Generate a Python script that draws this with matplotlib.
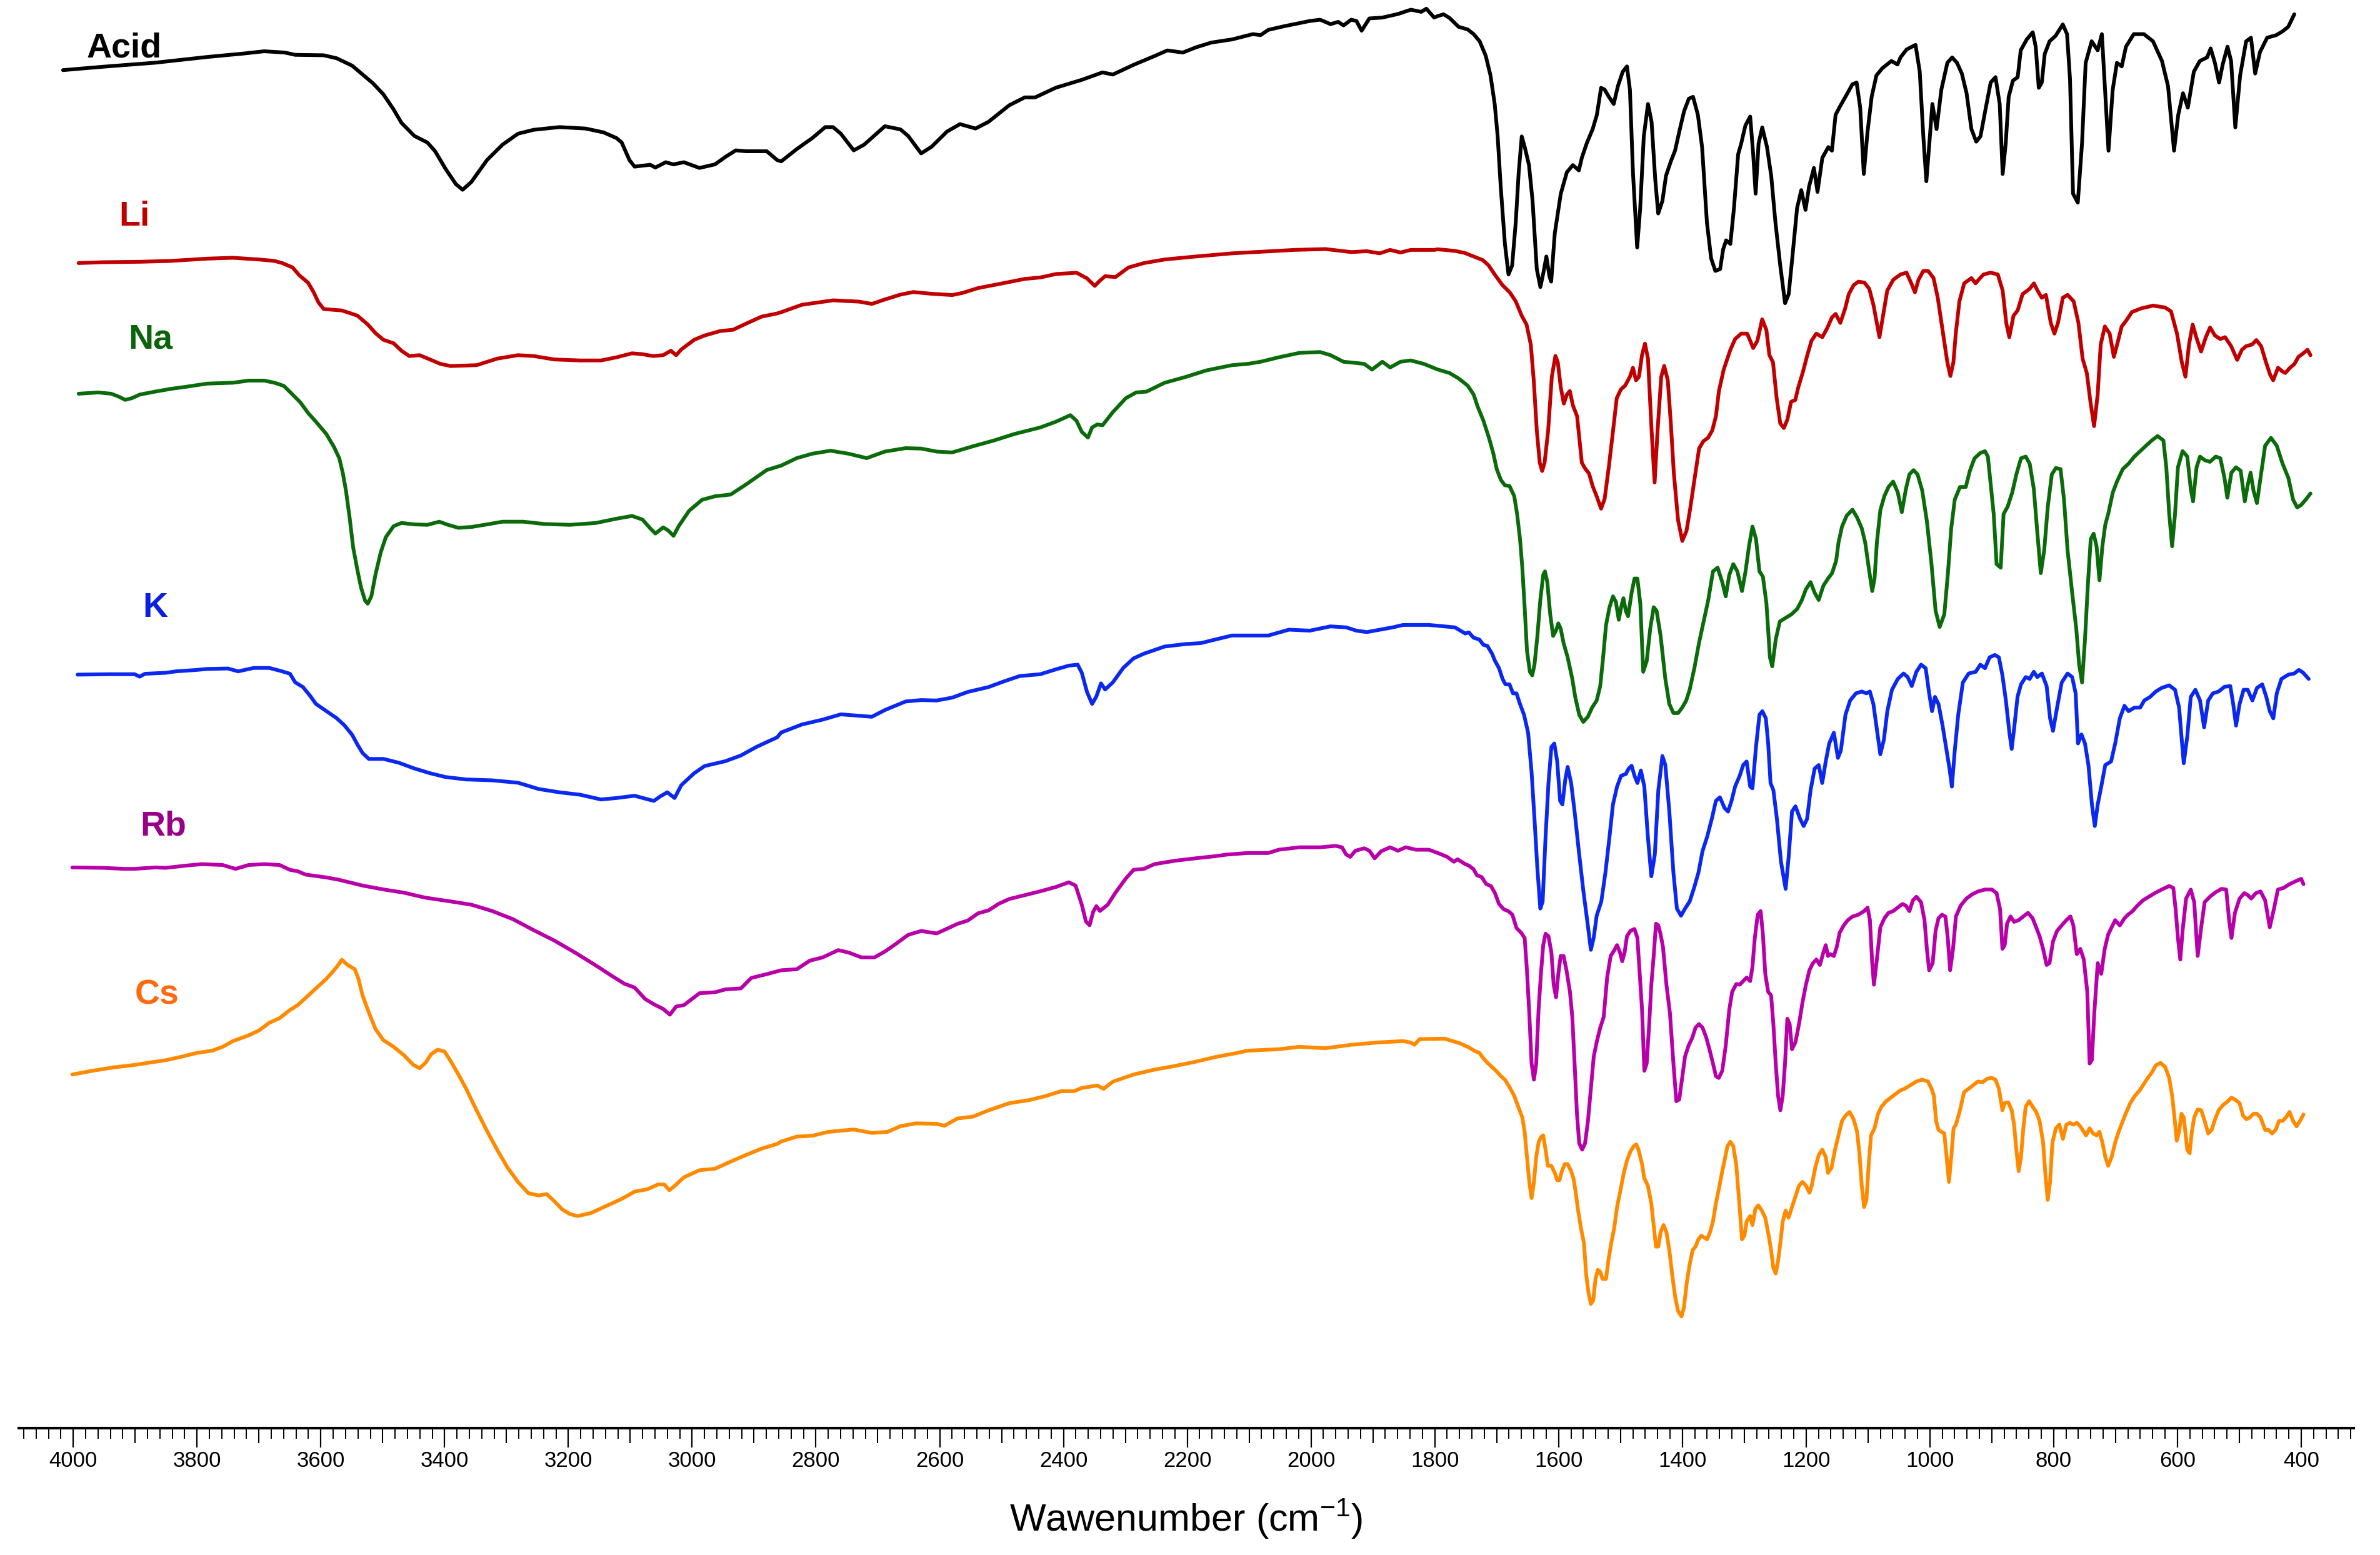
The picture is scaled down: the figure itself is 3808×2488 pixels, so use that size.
import matplotlib
matplotlib.use("Agg")
import matplotlib.pyplot as plt
from matplotlib.ticker import MultipleLocator, FixedLocator, NullFormatter
import numpy as np

plt.rcParams['font.family'] = ['Liberation Sans', 'DejaVu Sans']
plt.rcParams['mathtext.fontset'] = 'custom'
plt.rcParams['mathtext.rm'] = 'Liberation Sans'

# FTIR spectra, stacked (offset transmittance, arbitrary units 0-100)
acid_wn = [4016.5, 3951.2, 3867.5, 3783.7, 3725.1, 3691.6, 3658.1, 3641.4, 3595.3, 3574.4,
           3549.3, 3515.8, 3499.0, 3482.3, 3469.7, 3448.8, 3427.8, 3415.3, 3398.5, 3381.8,
           3370.9, 3356.7, 3331.5, 3306.4, 3281.3, 3256.2, 3214.3, 3172.4, 3143.1, 3122.2,
           3113.8, 3101.3, 3092.9, 3080.3, 3067.8, 3059.4, 3042.7, 3030.1, 3013.3, 2988.2,
           2963.1, 2946.3, 2929.6, 2912.9, 2879.4, 2862.6,
           2856.1, 2831.0, 2805.9, 2784.9, 2772.4, 2759.8, 2738.9, 2722.1, 2688.6, 2663.5,
           2650.9, 2630.0, 2613.2, 2588.1, 2567.2, 2542.1, 2521.1, 2487.6, 2462.5, 2445.8,
           2412.3, 2370.4, 2336.9, 2320.2, 2286.7, 2253.2, 2232.2, 2207.2, 2186.2, 2161.1,
           2127.6, 2094.1, 2081.5, 2069.0, 2043.8, 2002.0, 1985.2, 1968.5, 1955.9, 1947.5,
           1935.0, 1926.6, 1918.2, 1905.7, 1884.7, 1859.6, 1838.7, 1821.9, 1813.6, 1801.0,
           1795.5, 1785.8, 1776.1, 1761.5, 1746.9, 1737.2, 1727.5, 1717.8, 1710.0, 1703.2,
           1698.4, 1693.5, 1686.7, 1680.9, 1675.0, 1669.2, 1664.4, 1659.5, 1654.6, 1647.8,
           1642.0, 1635.2, 1629.4, 1624.5, 1619.7, 1614.8, 1611.9, 1606.1, 1596.4, 1586.6,
           1576.9, 1567.2, 1562.4, 1554.6, 1544.9, 1538.1, 1531.3, 1525.5, 1518.7, 1510.9,
           1504.1, 1496.3, 1489.5, 1484.7, 1479.8, 1473.0, 1468.1, 1462.3, 1455.5, 1449.7,
           1443.8, 1439.0, 1432.2, 1426.4, 1418.6, 1411.8, 1404.0, 1397.2, 1389.5, 1382.7,
           1374.9, 1368.1, 1360.3, 1353.5, 1346.7, 1338.9, 1334.1, 1329.2, 1322.4, 1316.6,
           1309.8, 1304.9, 1298.1, 1290.4, 1285.5, 1281.6, 1276.8, 1270.9, 1263.2, 1256.4,
           1249.6, 1241.8, 1234.0, 1228.2, 1222.4, 1214.6, 1207.8, 1201.0, 1195.2, 1187.4,
           1181.6, 1173.8, 1164.1, 1158.3, 1152.4, 1144.7, 1134.9, 1125.2, 1118.4, 1112.6,
           1106.8, 1100.9, 1094.1, 1086.4, 1076.7, 1062.1, 1052.4, 1047.5, 1037.8, 1023.2,
           1016.4, 1010.6, 1005.7, 1000.9, 996.0, 989.2, 981.5, 971.8, 964.0, 956.2,
           948.4, 940.7, 932.9, 925.1, 918.3, 909.6, 901.8, 894.0, 887.2, 882.4,
           877.5, 872.7, 865.9, 858.1, 853.2, 843.5, 833.8, 829.0, 824.1, 819.2,
           814.4, 806.6, 796.9, 785.2, 778.4, 773.6, 768.7, 761.0, 754.2, 748.3,
           738.6, 728.9, 722.1, 715.3, 711.4, 704.6, 697.8, 690.0, 683.2, 670.6,
           654.1, 639.5, 625.0, 615.2, 605.5, 598.7, 591.0, 583.2, 573.5, 563.8,
           552.1, 546.3, 539.5, 532.7, 526.9, 519.1, 513.3, 506.5, 498.7, 489.0,
           481.2, 474.4, 466.6, 455.0, 440.4, 430.7, 421.0, 411.2]
acid_t = [95.09, 95.33, 95.61, 96.01, 96.25, 96.41, 96.32, 96.16, 96.13, 95.92,
          95.40, 94.17, 93.40, 92.33, 91.40, 90.48, 90.02, 89.41, 88.18, 87.11,
          86.71, 87.26, 88.79, 89.87, 90.64, 90.91, 91.10, 91.00, 90.73, 90.33,
          90.02, 88.79, 88.33, 88.40, 88.46, 88.27, 88.64, 88.49, 88.64, 88.24,
          88.49, 89.01, 89.47, 89.41, 89.41, 88.79,
          88.70, 89.56, 90.33, 91.10, 91.10, 90.64, 89.47, 89.87, 91.16, 90.94,
          90.48, 89.26, 89.72, 90.79, 91.31, 91.00, 91.47, 92.63, 93.18, 93.18,
          93.86, 94.41, 94.93, 94.78, 95.46, 96.07, 96.47, 96.32, 96.68, 97.02,
          97.24, 97.61, 97.54, 97.91, 98.16, 98.53, 98.62, 98.31, 98.47, 98.22,
          98.62, 98.53, 97.85, 98.71, 98.77, 99.02, 99.32, 99.17, 99.39, 98.77,
          98.87, 99.00, 98.74, 98.12, 97.94, 97.61, 97.11, 96.11, 94.72, 92.72,
          90.45, 86.94, 82.92, 80.78, 81.41, 84.43, 87.94, 90.45, 89.70, 88.44,
          85.93, 81.16, 79.90, 80.91, 82.04, 80.66, 80.28, 83.67, 86.44, 87.94,
          88.44, 88.07, 88.95, 89.95, 90.96, 91.96, 93.85, 93.72, 93.22, 92.72,
          93.97, 94.98, 95.35, 93.72, 87.94, 82.67, 85.43, 90.45, 92.72, 91.46,
          87.44, 85.05, 85.93, 87.69, 88.70, 89.45, 90.96, 92.21, 93.09, 93.22,
          91.96, 89.70, 84.43, 81.91, 81.03, 81.16, 82.54, 83.17, 82.92, 85.43,
          89.20, 89.95, 91.21, 91.84, 89.20, 86.44, 89.95, 91.08, 89.70, 87.69,
          84.43, 81.41, 78.77, 79.40, 81.91, 85.43, 86.69, 85.30, 86.94, 88.24,
          86.56, 88.95, 89.70, 89.45, 91.96, 92.59, 93.34, 94.10, 94.22, 92.46,
          87.82, 90.71, 93.22, 94.72, 95.23, 95.73, 95.48, 95.98, 96.53, 96.86,
          94.98, 90.45, 87.31, 89.95, 92.72, 90.96, 93.72, 95.60, 95.98, 95.60,
          94.85, 93.47, 90.96, 90.08, 90.45, 92.46, 94.22, 94.60, 92.72, 87.82,
          89.95, 93.22, 94.35, 94.60, 96.48, 97.24, 97.74, 96.73, 93.85, 94.22,
          96.23, 97.11, 97.49, 98.29, 97.61, 94.47, 86.44, 85.81, 89.95, 95.60,
          97.11, 96.48, 97.61, 92.46, 89.45, 93.72, 95.60, 95.35, 96.73, 97.61,
          97.61, 97.11, 95.73, 93.97, 89.45, 91.96, 93.47, 92.46, 94.98, 95.73,
          95.98, 96.61, 95.60, 94.22, 95.48, 96.73, 95.73, 91.08, 94.72, 97.11,
          97.36, 94.85, 96.36, 97.36, 97.54, 97.79, 98.12, 99.00]

li_wn = [3991.4, 3951.2, 3892.6, 3842.4, 3783.7, 3741.9, 3700.0, 3674.9, 3662.3, 3645.6,
         3634.7, 3620.5, 3612.1, 3603.7, 3595.3, 3566.0, 3540.9, 3524.2, 3511.6, 3499.0,
         3482.3, 3469.7, 3457.1, 3440.4, 3423.7, 3406.9, 3390.2, 3348.3, 3314.8, 3281.3,
         3256.2, 3222.7, 3180.8, 3147.3, 3122.2, 3097.1, 3080.3, 3063.6, 3046.8, 3034.3,
         3025.9, 3017.5, 2996.6, 2979.8, 2954.7, 2933.8, 2912.8, 2887.7, 2862.6,
         2856.1, 2822.6, 2772.4, 2730.5, 2709.6, 2688.6, 2663.5, 2642.6, 2613.3, 2579.8,
         2563.0, 2537.9, 2504.4, 2462.5, 2437.4, 2412.3, 2378.8, 2362.0, 2349.5, 2341.1,
         2332.7, 2316.0, 2295.0, 2269.9, 2236.4, 2186.2, 2127.6, 2077.3, 2027.1, 1976.8,
         1935.0, 1909.8, 1889.0, 1872.2, 1855.4, 1838.7, 1801.0,
         1795.5, 1780.9, 1766.4, 1751.8, 1737.2, 1722.6, 1712.9, 1703.2, 1690.6, 1678.9,
         1669.2, 1659.5, 1651.7, 1644.9, 1640.1, 1635.2, 1630.4, 1626.5, 1622.6, 1616.8,
         1610.9, 1605.1, 1601.2, 1596.4, 1591.5, 1586.6, 1581.8, 1576.9, 1570.1, 1562.4,
         1557.5, 1550.7, 1544.9, 1538.1, 1531.3, 1525.5, 1518.7, 1511.9, 1506.0, 1499.2,
         1492.4, 1484.7, 1479.8, 1474.9, 1470.1, 1465.2, 1460.4, 1455.5, 1449.7, 1444.8,
         1440.0, 1434.1, 1429.3, 1423.5, 1418.6, 1413.7, 1406.9, 1400.1, 1393.3, 1387.5,
         1380.7, 1372.9, 1366.1, 1358.4, 1351.6, 1345.7, 1340.9, 1333.1, 1327.3, 1322.4,
         1314.7, 1304.9, 1295.2, 1285.5, 1278.7, 1271.0, 1264.2, 1259.3, 1253.5, 1247.6,
         1241.8, 1236.0, 1230.2, 1224.3, 1217.5, 1212.7, 1204.9, 1198.1, 1191.3, 1183.5,
         1173.8, 1166.0, 1158.3, 1152.4, 1144.7, 1136.9, 1131.1, 1123.3, 1115.5, 1105.8,
         1098.0, 1091.2, 1081.5, 1074.7, 1068.9, 1059.2, 1047.5, 1037.8, 1030.0, 1024.2,
         1018.4, 1010.6, 1002.8, 994.1, 987.3, 979.5, 971.8, 966.9, 962.0, 958.2,
         952.3, 944.6, 932.9, 926.1, 921.3, 913.5, 901.8, 890.2, 882.4, 876.6,
         871.7, 864.9, 858.1, 850.3, 838.7, 831.9, 826.0, 819.2, 812.5, 804.7,
         798.8, 793.0, 785.2, 777.5, 767.7, 760.0, 753.2, 746.4, 740.6, 734.7,
         728.9, 724.0, 717.3, 709.5, 702.7, 695.9, 690.1, 683.3, 673.5, 659.0,
         639.5, 620.1, 610.4, 600.7, 592.9, 587.1, 581.3, 575.4, 569.6, 561.8,
         554.1, 547.3, 539.5, 530.8, 523.0, 513.2, 503.5, 495.8, 489.0, 479.3,
         472.5, 464.7, 456.9, 450.1, 445.3, 437.5, 430.7, 425.8, 418.1, 411.2,
         404.5, 396.7, 389.9, 385.0]
li_t = [81.58, 81.64, 81.67, 81.73, 81.89, 81.95, 81.83, 81.73, 81.58, 81.27,
        80.72, 80.20, 79.58, 78.82, 78.36, 78.26, 77.90, 77.28, 76.67, 76.21,
        75.96, 75.44, 75.07, 75.13, 74.83, 74.52, 74.37, 74.43, 74.89, 75.13,
        75.07, 74.83, 74.76, 74.76, 74.98, 75.26, 75.20, 75.07, 75.13, 75.44,
        75.13, 75.53, 76.21, 76.51, 76.82, 76.91, 77.34, 77.83, 78.05,
        78.14, 78.66, 78.97, 78.88, 78.72, 79.03, 79.37, 79.55, 79.43, 79.34,
        79.49, 79.83, 80.11, 80.47, 80.57, 80.81, 80.90, 80.51, 79.98, 80.35,
        80.66, 80.60, 81.27, 81.58, 81.83, 82.04, 82.26, 82.38, 82.50, 82.56,
        82.35, 82.41, 82.26, 82.50, 82.32, 82.50, 82.50,
        82.54, 82.49, 82.42, 82.29, 82.04, 81.79, 81.41, 80.78, 80.03, 79.53,
        78.90, 77.89, 77.27, 75.88, 73.37, 69.86, 67.60, 67.02, 67.60, 69.86,
        73.62, 75.08, 74.63, 72.87, 71.74, 72.37, 72.62, 71.62, 70.86, 67.60,
        67.22, 66.84, 65.96, 65.21, 64.38, 65.08, 67.34, 69.86, 72.12, 72.74,
        73.00, 73.62, 74.25, 73.37, 73.62, 75.13, 75.94, 74.88, 69.86, 66.21,
        69.86, 73.62, 74.38, 73.37, 70.36, 66.84, 63.58, 62.12, 62.82, 64.33,
        66.34, 68.60, 69.10, 69.35, 69.86, 70.86, 72.62, 74.13, 74.88, 75.51,
        76.26, 76.64, 76.64, 75.63, 76.14, 77.64, 76.89, 75.13, 74.63, 72.12,
        70.36, 70.03, 70.63, 71.87, 71.99, 72.87, 74.00, 75.13, 76.14, 76.64,
        76.39, 77.02, 77.77, 78.02, 77.39, 78.40, 79.40, 80.03, 80.28, 80.21,
        79.78, 78.65, 76.39, 78.15, 79.65, 80.41, 80.78, 80.91, 80.16, 79.53,
        80.41, 81.03, 81.03, 80.53, 79.15, 76.89, 74.63, 73.67, 74.63, 76.64,
        78.90, 80.16, 80.53, 80.16, 80.41, 80.78, 80.91, 80.78, 79.65, 77.39,
        76.39, 77.89, 78.27, 79.40, 79.78, 80.16, 79.65, 79.15, 79.35, 77.39,
        76.64, 77.39, 79.15, 79.35, 78.90, 77.39, 74.88, 73.87, 71.87, 70.16,
        72.37, 75.88, 77.14, 76.64, 75.01, 76.14, 77.14, 77.52, 78.15, 78.40,
        78.60, 78.47, 78.20, 76.64, 74.63, 73.62, 75.88, 77.27, 76.39, 75.38,
        76.39, 77.07, 76.51, 76.26, 76.39, 75.76, 74.80, 75.51, 75.76, 75.88,
        76.19, 75.76, 74.63, 73.75, 73.37, 74.25, 74.00, 73.88, 74.25, 74.50,
        75.01, 75.26, 75.51, 75.13]

na_wn = [3991.4, 3959.6, 3938.7, 3926.1, 3916.1, 3905.2, 3892.6, 3867.5, 3842.4, 3817.2,
         3783.7, 3741.9, 3716.7, 3691.6, 3674.9, 3659.8, 3645.6, 3633.0, 3620.5, 3607.9,
         3591.1, 3578.6, 3570.2, 3564.3, 3559.3, 3553.5, 3547.6, 3540.9, 3535.0, 3528.4,
         3524.2, 3518.3, 3511.6, 3503.2, 3494.9, 3482.3, 3469.7, 3448.8, 3427.8, 3408.6,
         3394.4, 3377.6, 3356.7, 3331.5, 3306.4, 3272.9, 3239.4, 3197.5, 3155.7, 3122.2,
         3097.1, 3080.3, 3067.8, 3059.4, 3046.8, 3038.5, 3030.1, 3021.7, 3005.0, 2984.0,
         2963.1, 2937.9, 2912.8, 2879.4,
         2856.1, 2831.0, 2805.9, 2776.6, 2747.2, 2717.9, 2688.6, 2655.1, 2630.0, 2604.9,
         2579.8, 2546.3, 2512.8, 2479.3, 2437.4, 2412.3, 2388.8, 2378.8, 2370.4, 2360.4,
         2353.7, 2345.3, 2336.9, 2320.2, 2299.2, 2282.5, 2265.7, 2236.4, 2202.9, 2169.4,
         2127.6, 2102.5, 2081.5, 2052.2, 2018.7, 1985.2, 1968.5, 1947.5, 1926.6, 1914.0,
         1901.4, 1884.7, 1872.2, 1855.4, 1838.7, 1817.7,
         1795.5, 1776.1, 1761.5, 1746.9, 1737.2,
         1730.9, 1721.5, 1712.1, 1705.6, 1699.9, 1693.3, 1686.8, 1679.3, 1671.7, 1667.0,
         1662.3, 1658.6, 1654.8, 1651.1, 1646.4, 1642.6, 1638.9, 1634.2, 1629.5, 1624.8,
         1622.0, 1618.2, 1613.5, 1608.8, 1604.1, 1600.4, 1596.6, 1591.9, 1585.3, 1577.8,
         1573.1, 1566.6, 1560.0, 1552.5, 1545.9, 1538.4, 1532.7, 1528.0, 1523.3, 1517.7,
         1512.1, 1507.4, 1502.7, 1498.9, 1495.2, 1491.4, 1487.7, 1482.0, 1477.3, 1472.6,
         1467.9, 1463.2, 1457.6, 1451.9, 1446.3, 1441.6, 1435.1, 1427.5, 1421.0, 1414.4,
         1406.9, 1400.3, 1393.7, 1388.1, 1380.6, 1373.1, 1365.6, 1358.1, 1350.5, 1343.0,
         1335.5, 1329.9, 1324.2, 1317.7, 1311.1, 1303.6, 1297.9, 1292.3, 1286.7, 1281.0,
         1275.4, 1269.8, 1264.1, 1258.5, 1254.7, 1249.1, 1242.5, 1233.1, 1223.8, 1214.4,
         1206.8, 1200.3, 1192.8, 1186.2, 1179.6, 1172.1, 1164.6, 1158.0, 1151.4, 1147.7,
         1142.0, 1134.5, 1125.1, 1117.6, 1110.1, 1104.5, 1098.8, 1093.2, 1089.4, 1085.7,
         1080.1, 1073.5, 1066.9, 1059.4, 1051.9, 1045.3, 1038.7, 1033.1, 1026.5, 1019.9,
         1012.4, 1004.9, 997.4, 990.8, 984.2, 976.7, 971.1, 965.5, 959.8, 951.4,
         942.0, 935.4, 927.9, 918.5, 911.0, 906.3, 901.6, 896.9, 892.2, 885.6,
         880.9, 874.4, 866.9, 860.3, 852.8, 845.2, 838.7, 832.1, 826.5, 820.8,
         815.2, 809.5, 803.0, 796.4, 788.9, 783.3, 777.6, 770.1, 763.5, 758.8,
         754.1, 749.4, 744.8, 740.1, 735.4, 730.7, 726.0, 721.3, 716.6, 711.9,
         704.4, 697.8, 688.4, 679.0, 669.6, 660.2, 650.8, 641.4, 632.1, 622.7,
         618.0, 613.3, 608.6, 603.9, 599.2, 591.7, 584.1, 578.5, 574.8, 569.1,
         563.5, 556.0, 547.5, 538.1, 530.6, 524.0, 519.4, 512.8, 505.3, 497.8,
         491.2, 486.5, 481.8, 477.1, 471.5, 465.8, 458.3, 448.9, 439.5, 430.1,
         420.7, 413.2, 406.6, 400.1, 392.6, 385.0]
na_t = [72.43, 72.52, 72.43, 72.22, 72.00, 72.12, 72.37, 72.58, 72.77, 72.92,
        73.14, 73.20, 73.35, 73.35, 73.20, 72.98, 72.37, 71.82, 71.08, 70.47,
        69.61, 68.69, 67.92, 66.84, 65.62, 63.77, 61.63, 60.09, 58.86, 57.94,
        57.73, 58.25, 59.78, 61.32, 62.39, 63.16, 63.38, 63.28, 63.25, 63.47,
        63.25, 63.04, 63.10, 63.28, 63.47, 63.47, 63.31, 63.25, 63.38, 63.68,
        63.87, 63.62, 63.01, 62.64, 63.07, 62.85, 62.48, 63.16, 64.23, 65.00,
        65.25, 65.37, 66.08, 67.09,
        67.40, 67.92, 68.23, 68.44, 68.23, 67.92, 68.38, 68.62, 68.59, 68.38,
        68.32, 68.75, 69.15, 69.61, 70.07, 70.47, 70.93, 70.53, 69.76, 69.36,
        70.07, 70.28, 70.22, 71.14, 72.12, 72.52, 72.58, 73.20, 73.60, 74.06,
        74.43, 74.52, 74.67, 74.98, 75.29, 75.35, 75.13, 74.67, 74.58, 74.52,
        74.12, 74.67, 74.27, 74.67, 74.76, 74.52,
        74.13, 73.88, 73.50, 73.00, 72.37,
        71.55, 70.55, 69.29, 68.28, 67.15, 66.40, 66.02, 65.97, 65.27, 64.01,
        62.26, 60.25, 57.48, 54.47, 52.96, 52.71, 53.46, 55.47, 57.99, 59.74,
        59.99, 59.24, 56.98, 55.47, 55.85, 56.35, 55.98, 54.97, 53.97, 52.46,
        51.20, 49.95, 49.45, 49.82, 50.45, 50.95, 51.96, 53.97, 56.23, 57.48,
        58.24, 57.86, 56.60, 57.48, 58.11, 57.23, 56.85, 58.49, 59.49, 59.49,
        57.73, 52.96, 53.71, 55.97, 57.48, 57.23, 55.47, 52.46, 50.70, 50.07,
        50.07, 50.45, 50.95, 51.71, 53.21, 54.97, 56.48, 57.99, 59.99, 60.25,
        59.24, 58.24, 59.74, 60.50, 59.99, 58.61, 59.99, 61.75, 63.13, 62.26,
        59.99, 59.62, 57.73, 53.97, 53.34, 55.22, 56.48, 56.73, 56.98, 57.36,
        57.99, 58.74, 59.24, 58.49, 57.99, 58.99, 59.49, 59.87, 60.75, 62.00,
        63.13, 63.89, 64.31, 63.76, 63.01, 62.00, 60.25, 58.61, 59.49, 62.00,
        64.27, 65.27, 65.90, 66.28, 65.52, 64.14, 65.77, 66.78, 67.08, 66.78,
        65.65, 63.51, 60.50, 57.23, 56.10, 56.98, 59.74, 63.01, 65.02, 65.90,
        65.90, 67.03, 67.91, 68.28, 68.41, 68.03, 66.02, 64.01, 60.50, 60.25,
        64.01, 64.52, 65.52, 66.78, 67.91, 68.03, 67.53, 65.77, 62.76, 59.87,
        61.50, 64.52, 66.78, 67.23, 67.15, 65.02, 61.50, 58.49, 55.98, 53.46,
        52.21, 55.22, 58.99, 62.26, 62.63, 61.75, 59.37, 61.75, 63.26, 64.01,
        65.52, 66.27, 67.15, 67.53, 68.03, 68.41, 68.79, 69.16, 69.47, 69.16,
        67.28, 64.01, 61.75, 64.01, 67.28, 68.41, 68.03, 65.77, 64.89, 67.28,
        68.03, 67.78, 67.66, 68.03, 67.91, 66.53, 65.15, 66.90, 67.28, 67.03,
        64.89, 66.02, 66.90, 65.65, 64.77, 66.53, 68.79, 69.34, 68.79, 67.53,
        66.53, 65.02, 64.47, 64.64, 65.02, 65.45]

k_wn = [3993.1, 3942.9, 3901.0, 3892.6, 3884.2, 3850.7, 3834.0, 3800.5, 3783.7, 3750.2,
        3733.5, 3708.4, 3683.3, 3662.3, 3649.8, 3641.4, 3628.8, 3616.3, 3607.9, 3591.1,
        3574.4, 3561.8, 3549.3, 3540.9, 3532.5, 3522.5, 3499.0, 3473.9, 3448.8, 3423.7,
        3398.5, 3365.0, 3323.2, 3281.3, 3247.8, 3214.3, 3180.8, 3147.3, 3122.2, 3092.9,
        3076.1, 3061.9, 3051.0, 3040.1, 3028.4, 3017.5, 2996.6, 2979.8, 2946.3, 2921.2,
        2896.1, 2862.6,
        2856.1, 2822.6, 2789.1, 2759.8, 2730.5, 2709.6, 2688.6, 2655.1, 2630.0, 2604.9,
        2579.8, 2554.6, 2521.1, 2496.0, 2470.9, 2437.4, 2412.3, 2391.3, 2377.1, 2370.4,
        2362.0, 2353.7, 2346.9, 2339.4, 2332.7, 2320.2, 2303.4, 2286.7, 2269.9, 2236.4,
        2202.9, 2177.8, 2152.7, 2127.6, 2068.9, 2035.5, 2002.0, 1968.5, 1943.3, 1926.6,
        1909.8, 1868.0, 1851.2, 1809.4, 1767.5, 1750.8,
        1745.0, 1737.5, 1728.1, 1721.5, 1715.0, 1707.4, 1702.7, 1696.2, 1690.5, 1685.8,
        1679.3, 1673.6, 1668.0, 1662.3, 1655.8, 1649.2, 1643.6, 1638.9, 1634.2, 1629.5,
        1625.7, 1621.0, 1616.3, 1611.6, 1606.9, 1602.2, 1597.5, 1593.8, 1589.1, 1585.3,
        1579.7, 1574.1, 1566.6, 1560.0, 1552.5, 1547.8, 1543.1, 1538.4, 1530.9, 1524.3,
        1517.7, 1512.1, 1505.5, 1499.0, 1491.4, 1486.7, 1482.0, 1477.3, 1472.6, 1467.0,
        1461.4, 1455.7, 1450.1, 1444.5, 1438.8, 1432.2, 1427.5, 1421.0, 1414.4, 1408.8,
        1402.2, 1395.6, 1388.1, 1380.6, 1374.0, 1367.4, 1359.9, 1352.4, 1345.8, 1339.3,
        1331.8, 1326.1, 1320.5, 1314.8, 1307.3, 1301.7, 1296.1, 1290.4, 1286.7, 1281.0,
        1275.4, 1270.7, 1265.1, 1261.3, 1257.5, 1252.9, 1247.2, 1240.6, 1233.1, 1228.4,
        1222.8, 1217.2, 1209.7, 1204.0, 1198.4, 1192.8, 1186.2, 1179.6, 1174.0, 1168.3,
        1162.7, 1155.2, 1148.6, 1143.9, 1136.4, 1128.9, 1119.5, 1110.1, 1102.6, 1097.0,
        1091.3, 1085.7, 1080.1, 1074.4, 1068.8, 1061.3, 1051.9, 1042.5, 1035.9, 1029.3,
        1021.8, 1014.3, 1006.8, 1001.2, 996.5, 991.8, 986.1, 979.5, 973.0, 968.3,
        964.5, 959.8, 954.2, 946.7, 937.3, 926.0, 918.5, 911.0, 903.5, 895.0,
        888.5, 882.8, 877.2, 871.5, 867.8, 864.0, 858.4, 852.8, 845.2, 838.7,
        832.1, 826.5, 819.0, 811.4, 805.8, 801.1, 794.5, 787.0, 777.6, 770.1,
        764.5, 760.7, 755.1, 749.4, 743.8, 738.2, 733.5, 728.8, 723.1, 716.6,
        707.2, 700.6, 693.1, 685.6, 679.0, 669.6, 660.2, 653.6, 644.2, 634.9,
        625.5, 613.3, 603.9, 597.3, 593.5, 589.8, 584.1, 578.5, 571.0, 563.5,
        556.9, 550.3, 542.8, 533.4, 524.0, 514.6, 509.9, 505.3, 499.6, 493.1,
        486.5, 478.9, 471.5, 463.0, 456.4, 450.8, 445.1, 439.5, 432.0, 420.7,
        411.3, 403.8, 397.2, 387.9]
k_t = [52.76, 52.79, 52.79, 52.62, 52.82, 52.89, 52.99, 53.09, 53.16, 53.19,
       52.99, 53.23, 53.23, 52.99, 52.82, 52.22, 51.89, 51.22, 50.71, 50.21,
       49.71, 49.21, 48.54, 47.87, 47.27, 46.86, 46.86, 46.59, 46.19, 45.86,
       45.59, 45.42, 45.36, 45.19, 44.75, 44.52, 44.35, 44.02, 44.12, 44.28,
       44.08, 43.92, 44.25, 44.52, 44.12, 45.02, 45.86, 46.36, 46.70, 47.10,
       47.70, 48.37,
       48.71, 49.27, 49.61, 49.98, 49.88, 49.81, 50.28, 50.88, 50.98, 50.95,
       51.15, 51.55, 51.89, 52.29, 52.66, 52.79, 53.13, 53.39, 53.46, 52.89,
       51.55, 50.71, 51.22, 52.15, 51.72, 52.22, 53.23, 53.90, 54.23, 54.73,
       54.90, 54.97, 55.24, 55.50, 55.50, 55.91, 55.84, 56.14, 56.07, 55.84,
       55.74, 56.07, 56.24, 56.24, 56.07, 55.64,
       55.72, 55.35, 55.22, 54.85, 54.77, 54.22, 53.72, 53.21, 52.46, 52.08,
       52.08, 51.45, 51.45, 50.70, 49.95, 48.69, 45.93, 42.66, 39.15, 36.38,
       36.88, 41.41, 45.17, 47.69, 47.94, 46.68, 43.92, 43.67, 45.43, 46.30,
       45.17, 43.17, 40.15, 37.64, 35.13, 33.49, 34.37, 35.88, 36.88, 38.89,
       41.41, 43.67, 44.92, 45.68, 45.80, 46.18, 46.38, 45.68, 45.17, 46.05,
       44.92, 41.41, 38.64, 40.15, 44.67, 47.06, 46.43, 43.17, 38.89, 36.38,
       35.88, 36.38, 36.88, 37.89, 38.89, 40.40, 41.41, 42.66, 43.92, 44.17,
       43.42, 43.17, 43.92, 44.92, 45.68, 46.43, 46.68, 44.92, 44.80, 47.69,
       49.95, 50.20, 49.70, 47.94, 45.17, 44.67, 42.66, 39.65, 37.76, 39.90,
       43.17, 43.54, 42.66, 42.16, 42.66, 44.67, 46.18, 46.43, 45.17, 46.68,
       47.94, 48.69, 46.93, 47.44, 49.95, 50.95, 51.45, 51.58, 51.45, 51.58,
       50.70, 48.94, 47.18, 48.19, 50.20, 51.70, 52.46, 52.84, 52.59, 51.96,
       52.96, 53.46, 53.21, 51.45, 50.20, 51.20, 50.70, 49.19, 47.44, 46.18,
       44.92, 47.44, 49.95, 52.21, 52.84, 52.96, 53.46, 53.21, 53.97, 54.14,
       53.97, 52.71, 50.95, 48.69, 47.56, 48.94, 51.20, 52.08, 52.59, 52.46,
       52.96, 52.59, 52.84, 51.96, 49.70, 48.82, 50.45, 52.21, 52.84, 52.59,
       51.45, 47.94, 48.57, 47.94, 46.43, 43.67, 42.16, 43.67, 44.92, 46.43,
       46.68, 47.94, 49.70, 50.58, 50.20, 50.45, 50.45, 50.95, 51.20, 51.58,
       51.83, 52.01, 51.70, 50.45, 48.44, 46.56, 48.44, 51.20, 51.70, 50.95,
       49.07, 50.95, 51.45, 51.58, 51.91, 51.96, 50.70, 49.19, 50.70, 51.70,
       51.70, 50.95, 51.83, 52.08, 51.20, 50.20, 49.70, 51.45, 52.46, 52.76,
       52.84, 53.09, 52.91, 52.46]

rb_wn = [4001.5, 3951.2, 3917.7, 3901.0, 3867.5, 3850.7, 3817.2, 3792.1, 3758.6, 3737.7,
         3716.7, 3691.6, 3666.5, 3649.8, 3637.2, 3624.6, 3591.1, 3570.2, 3532.5, 3499.0,
         3465.5, 3432.0, 3390.2, 3356.7, 3323.2, 3289.7, 3256.2, 3222.7, 3189.2, 3155.7,
         3130.6, 3109.6, 3092.9, 3076.1, 3061.9, 3046.8, 3036.0, 3025.9, 3013.3, 2988.2,
         2963.1, 2946.3, 2921.2, 2904.5, 2879.4,
         2856.1, 2831.0, 2810.0, 2789.1, 2764.0, 2747.2, 2726.3, 2705.4, 2688.6, 2671.9,
         2650.9, 2630.0, 2604.9, 2588.1, 2571.4, 2554.6, 2537.9, 2521.1, 2504.4, 2487.6,
         2462.5, 2437.4, 2412.3, 2391.3, 2380.4, 2370.4, 2363.7, 2357.8, 2352.0, 2346.9,
         2341.1, 2328.5, 2316.0, 2299.2, 2286.7, 2269.9, 2253.2, 2219.7, 2186.2, 2152.7,
         2135.9, 2102.5, 2069.0, 2052.2, 2018.7, 1985.2, 1960.1, 1950.0, 1943.3, 1936.6,
         1928.3, 1914.0, 1905.6, 1897.3, 1886.4, 1872.2, 1859.6, 1847.0, 1830.3, 1809.4,
         1792.6, 1780.0, 1769.2, 1763.3, 1750.7,
         1745.0, 1737.5, 1731.9, 1724.3, 1716.8, 1709.3, 1702.7, 1696.2, 1688.6, 1681.1,
         1674.6, 1668.0, 1660.5, 1654.8, 1651.1, 1647.3, 1643.6, 1639.8, 1636.1, 1632.3,
         1628.5, 1624.8, 1621.0, 1616.3, 1611.6, 1607.9, 1604.1, 1600.4, 1596.6, 1591.9,
         1587.2, 1581.6, 1577.8, 1574.1, 1570.3, 1566.6, 1561.9, 1557.2, 1552.5, 1547.8,
         1543.1, 1538.4, 1532.7, 1527.1, 1521.5, 1515.8, 1510.2, 1505.5, 1500.8, 1497.1,
         1493.3, 1489.5, 1483.9, 1477.3, 1472.6, 1468.9, 1465.1, 1461.4, 1457.6, 1453.9,
         1450.1, 1446.3, 1442.6, 1438.8, 1435.1, 1431.3, 1425.7, 1420.0, 1414.4, 1409.7,
         1405.0, 1400.3, 1395.6, 1390.0, 1384.3, 1378.7, 1373.1, 1367.4, 1361.8, 1356.2,
         1350.5, 1345.8, 1341.1, 1335.5, 1329.9, 1324.2, 1319.5, 1312.8, 1307.3, 1301.7,
         1296.1, 1290.4, 1286.7, 1282.9, 1278.2, 1273.5, 1269.8, 1266.0, 1261.3, 1256.6,
         1252.9, 1249.1, 1245.3, 1241.6, 1237.8, 1234.1, 1230.3, 1226.6, 1222.8, 1217.2,
         1211.5, 1205.9, 1200.3, 1194.6, 1189.0, 1183.4, 1177.7, 1172.1, 1168.3, 1164.6,
         1160.8, 1155.2, 1150.5, 1145.8, 1139.2, 1132.6, 1125.1, 1115.7, 1106.3, 1100.7,
         1096.9, 1093.2, 1090.4, 1085.7, 1080.1, 1073.5, 1066.9, 1059.4, 1051.9, 1044.4,
         1038.7, 1033.1, 1027.5, 1021.8, 1014.3, 1008.7, 1004.9, 1001.2, 995.5, 990.8,
         986.1, 980.5, 974.9, 971.1, 967.3, 962.6, 957.9, 950.4, 941.0, 931.7,
         922.3, 911.0, 899.7, 892.2, 886.6, 882.8, 879.1, 875.3, 869.7, 864.0,
         856.5, 849.0, 841.5, 834.0, 828.3, 822.7, 817.1, 811.4, 806.7, 801.1,
         794.5, 787.0, 779.5, 772.9, 768.2, 762.6, 757.0, 751.3, 745.7, 741.9,
         738.2, 734.4, 728.8, 723.1, 717.5, 711.9, 706.3, 700.6, 693.1, 685.6,
         679.9, 672.5, 664.9, 655.5, 646.1, 636.7, 625.5, 613.3, 606.7, 602.9,
         599.2, 595.4, 591.7, 586.0, 578.5, 572.9, 567.3, 561.6, 556.0, 547.5,
         538.1, 528.7, 521.2, 516.5, 512.7, 507.1, 499.6, 492.1, 486.5, 480.8,
         473.3, 465.8, 458.3, 450.8, 444.2, 437.7, 428.2, 418.9, 406.6, 400.1,
         396.3]
rb_t = [39.26, 39.23, 39.16, 39.16, 39.26, 39.23, 39.39, 39.49, 39.43, 39.16,
        39.43, 39.49, 39.43, 39.09, 38.99, 38.76, 38.56, 38.39, 37.99, 37.72,
        37.49, 37.15, 36.88, 36.65, 36.21, 35.64, 34.87, 34.14, 33.30, 32.40,
        31.69, 31.12, 30.85, 30.05, 29.68, 29.35, 28.95, 29.52, 29.62, 30.45,
        30.52, 30.72, 30.79, 31.52, 31.79,
        32.06, 32.13, 32.73, 32.96, 33.47, 33.30, 32.96, 32.96, 33.37, 33.87,
        34.54, 34.81, 34.64, 34.97, 35.31, 35.54, 36.05, 36.25, 36.72, 37.05,
        37.32, 37.59, 37.89, 38.22, 37.99, 36.65, 35.48, 35.21, 36.15, 36.55,
        36.21, 36.65, 37.49, 38.49, 39.09, 39.16, 39.49, 39.73, 39.90, 40.06,
        40.16, 40.27, 40.27, 40.50, 40.67, 40.67, 40.77, 40.67, 40.17, 40.00,
        40.43, 40.60, 40.43, 39.90, 40.40, 40.67, 40.43, 40.67, 40.50, 40.50,
        40.23, 40.00, 39.66, 39.83, 39.49,
        39.39, 39.14, 38.71, 38.59, 38.09, 37.96, 37.46, 36.70, 36.33, 36.20,
        35.95, 35.02, 34.69, 34.32, 32.06, 29.04, 25.53, 24.40, 25.53, 29.29,
        31.81, 33.82, 34.62, 34.44, 33.31, 31.05, 30.17, 31.81, 33.06, 33.06,
        32.06, 30.55, 28.79, 25.53, 22.01, 19.94, 19.50, 19.94, 21.51, 23.77,
        26.03, 27.03, 28.04, 28.79, 31.55, 33.06, 33.44, 33.82, 33.31, 32.69,
        33.31, 34.44, 34.82, 34.95, 34.32, 31.81, 29.29, 25.02, 25.53, 28.04,
        31.05, 33.06, 35.32, 35.20, 34.57, 33.69, 31.05, 29.04, 25.53, 22.89,
        23.01, 24.52, 26.03, 26.78, 27.29, 28.04, 28.29, 28.04, 27.41, 26.53,
        25.53, 24.65, 24.52, 25.02, 26.78, 29.29, 30.55, 31.10, 31.05, 31.30,
        31.55, 31.30, 32.31, 34.32, 35.95, 36.20, 34.57, 31.81, 30.55, 30.30,
        28.29, 25.53, 23.27, 22.26, 23.27, 25.53, 28.67, 28.29, 26.53, 27.03,
        28.29, 29.80, 31.05, 32.06, 32.56, 32.81, 32.43, 33.31, 33.82, 33.06,
        33.19, 33.06, 33.69, 34.69, 35.20, 35.57, 35.82, 35.95, 36.20, 36.45,
        35.57, 32.56, 31.05, 32.81, 35.07, 35.70, 36.08, 36.20, 36.45, 36.70,
        36.58, 36.20, 36.95, 37.21, 36.83, 35.57, 33.56, 32.06, 32.56, 34.82,
        35.70, 35.95, 35.82, 34.32, 32.06, 33.56, 35.83, 36.58, 37.08, 37.38,
        37.58, 37.71, 37.71, 37.46, 36.33, 33.56, 33.82, 35.32, 35.83, 35.45,
        35.57, 35.83, 36.08, 35.70, 35.07, 34.44, 33.56, 32.43, 32.56, 34.07,
        34.82, 35.20, 35.57, 35.83, 35.20, 33.19, 33.56, 32.81, 30.55, 25.53,
        25.78, 29.04, 32.56, 31.81, 33.56, 34.57, 35.07, 35.57, 35.20, 35.70,
        35.95, 36.20, 36.58, 36.96, 37.21, 37.46, 37.71, 37.96, 37.83, 36.33,
        34.32, 32.81, 34.82, 37.08, 37.71, 36.83, 33.06, 35.07, 36.83, 37.21,
        37.53, 37.76, 37.71, 35.57, 34.32, 36.08, 37.08, 37.46, 37.33, 37.08,
        37.46, 37.58, 36.96, 35.07, 36.33, 37.71, 37.83, 38.09, 38.34, 38.46,
        38.09]

cs_wn = [4001.5, 3968.0, 3934.5, 3901.0, 3875.8, 3850.7, 3825.6, 3800.5, 3775.4, 3758.6,
         3741.9, 3716.7, 3700.0, 3683.3, 3666.5, 3649.8, 3637.2, 3624.6, 3607.9, 3591.1,
         3578.6, 3570.2, 3566.0, 3557.6, 3545.1, 3539.2, 3532.5, 3522.5, 3511.6, 3499.0,
         3482.3, 3465.5, 3450.4, 3440.4, 3430.4, 3422.0, 3411.1, 3400.2, 3390.2, 3377.6,
         3365.0, 3348.3, 3331.5, 3314.8, 3298.1, 3281.3, 3264.6, 3247.8, 3235.2, 3222.7,
         3210.1, 3197.5, 3185.0, 3164.1, 3138.9, 3113.8, 3092.9, 3071.9, 3055.2, 3045.1,
         3036.8, 3030.1, 3013.3, 2988.2, 2963.1, 2937.9, 2912.8, 2887.7, 2862.6,
         2856.1, 2831.0, 2805.9, 2780.7, 2738.9, 2709.6, 2684.4, 2663.5, 2638.4, 2604.9,
         2592.3, 2571.4, 2546.3, 2521.1, 2487.6, 2454.1, 2429.0, 2403.9, 2383.0, 2370.4,
         2345.3, 2335.2, 2320.2, 2286.7, 2253.2, 2219.7, 2186.2, 2152.7, 2119.2, 2102.5,
         2052.2, 2018.7, 1976.8, 1935.0, 1893.1, 1851.2, 1838.7, 1832.8, 1824.4, 1784.2,
         1759.1,
         1745.0, 1735.6, 1728.1, 1721.5, 1715.0, 1707.4, 1699.9, 1693.3, 1686.8, 1679.3,
         1671.7, 1665.2, 1658.6, 1654.8, 1651.1, 1647.3, 1643.6, 1639.8, 1636.1, 1632.3,
         1628.5, 1624.8, 1621.0, 1617.3, 1611.6, 1606.0, 1602.2, 1598.5, 1594.7, 1590.0,
         1585.3, 1579.7, 1575.9, 1572.2, 1568.4, 1563.7, 1559.0, 1555.3, 1551.5, 1547.8,
         1544.0, 1540.3, 1536.5, 1532.7, 1529.0, 1523.3, 1519.6, 1514.9, 1510.2, 1505.5,
         1500.8, 1495.2, 1489.5, 1483.9, 1478.3, 1474.5, 1470.8, 1465.1, 1461.4, 1455.7,
         1450.1, 1446.3, 1442.6, 1438.8, 1435.1, 1430.4, 1425.7, 1421.0, 1416.3, 1411.6,
         1406.9, 1401.3, 1397.5, 1392.8, 1388.1, 1383.4, 1378.7, 1374.0, 1369.3, 1364.6,
         1359.9, 1355.2, 1350.5, 1345.8, 1341.1, 1335.5, 1331.8, 1327.1, 1322.4, 1317.7,
         1313.0, 1308.3, 1303.6, 1299.8, 1296.1, 1290.4, 1286.7, 1282.0, 1277.3, 1271.6,
         1266.0, 1260.4, 1256.6, 1252.9, 1249.1, 1245.3, 1241.6, 1237.8, 1233.1, 1228.4,
         1222.8, 1217.2, 1211.5, 1205.9, 1200.3, 1194.6, 1190.9, 1185.2, 1179.6, 1174.0,
         1168.3, 1164.6, 1158.9, 1153.3, 1147.7, 1142.0, 1136.4, 1129.8, 1123.3, 1117.6,
         1113.9, 1110.1, 1106.3, 1102.6, 1098.8, 1095.1, 1089.4, 1083.8, 1078.2, 1070.7,
         1063.1, 1055.6, 1048.1, 1040.6, 1031.2, 1021.8, 1012.4, 1003.0, 997.4, 993.6,
         989.9, 986.1, 981.4, 976.7, 973.0, 969.2, 965.5, 961.7, 957.9, 951.4,
         944.8, 937.3, 929.8, 922.3, 914.7, 907.2, 899.7, 894.1, 888.5, 882.8,
         879.1, 873.4, 867.8, 864.0, 860.3, 856.5, 852.8, 849.0, 845.2, 839.6,
         834.0, 828.3, 822.7, 817.1, 813.3, 809.6, 805.8, 802.0, 796.4, 790.8,
         785.1, 779.5, 773.9, 768.2, 762.6, 757.0, 751.3, 747.6, 741.9, 736.3,
         730.7, 726.0, 721.3, 716.6, 711.9, 706.3, 700.6, 695.0, 689.3, 683.7,
         676.2, 668.7, 661.2, 653.6, 648.0, 641.4, 634.9, 627.4, 619.8, 613.3,
         608.6, 604.8, 601.1, 597.3, 593.5, 589.8, 584.1, 580.4, 576.7, 572.9,
         567.3, 561.6, 556.0, 550.3, 544.7, 539.1, 533.4, 525.9, 518.4, 512.8,
         507.1, 499.6, 494.0, 488.4, 482.7, 477.1, 471.5, 465.8, 458.3, 452.7,
         447.0, 441.4, 435.8, 430.1, 424.5, 418.9, 413.2, 407.6, 402.0, 396.3]
cs_t = [24.76, 25.03, 25.26, 25.43, 25.60, 25.76, 26.00, 26.27, 26.43, 26.70,
        27.10, 27.50, 27.84, 28.38, 28.71, 29.28, 29.62, 30.12, 30.79, 31.46,
        32.06, 32.53, 32.80, 32.46, 32.13, 31.46, 30.29, 29.11, 27.94, 27.17,
        26.70, 26.10, 25.43, 25.20, 25.60, 26.17, 26.50, 26.37, 25.70, 24.76,
        23.75, 22.25, 20.81, 19.47, 18.23, 17.23, 16.45, 16.29, 16.39, 15.89,
        15.32, 14.99, 14.85, 15.05, 15.55, 16.05, 16.56, 16.73, 17.06, 17.06,
        16.66, 16.89, 17.56, 18.06, 18.16, 18.66, 19.13, 19.57, 19.90,
        20.07, 20.41, 20.47, 20.74, 20.91, 20.67, 20.74, 21.14, 21.34, 21.31,
        21.17, 21.68, 21.81, 22.25, 22.75, 22.98, 23.25, 23.59, 23.59, 23.82,
        23.99, 23.76, 24.26, 24.76, 25.10, 25.36, 25.66, 26.00, 26.27, 26.43,
        26.53, 26.70, 26.60, 26.84, 27.00, 27.10, 27.00, 26.84, 27.24, 27.27,
        26.94,
        26.66, 26.41, 26.28, 25.90, 25.58, 25.27, 24.97, 24.65, 24.40, 23.89,
        23.27, 22.51, 21.76, 20.75, 18.99, 17.24, 16.11, 17.24, 18.99, 20.00,
        20.38, 20.50, 19.50, 18.37, 18.37, 17.86, 17.36, 17.36, 17.99, 18.49,
        18.49, 17.99, 17.49, 16.48, 15.23, 13.97, 12.97, 10.71, 9.45, 8.70,
        8.95, 10.45, 11.08, 10.95, 10.45, 10.45, 11.71, 12.97, 13.97, 15.48,
        16.48, 17.74, 18.74, 19.37, 19.75, 19.87, 19.50, 18.49, 17.49, 16.98,
        15.73, 14.22, 12.71, 12.71, 13.72, 14.22, 13.72, 12.46, 10.71, 9.20,
        8.19, 7.82, 8.44, 10.20, 11.46, 12.46, 12.71, 13.22, 13.47, 13.35,
        13.22, 13.72, 14.47, 15.73, 16.73, 17.99, 18.74, 19.75, 20.05, 19.75,
        18.49, 15.98, 13.22, 13.47, 14.47, 14.85, 14.22, 15.35, 15.60, 15.23,
        14.73, 13.47, 12.46, 11.21, 10.83, 11.71, 12.97, 14.47, 15.23, 14.73,
        15.48, 16.23, 16.98, 17.24, 16.98, 16.48, 16.98, 18.24, 19.12, 19.50,
        18.99, 17.87, 18.24, 19.50, 20.50, 21.51, 21.88, 22.14, 21.63, 20.75,
        19.25, 16.98, 15.48, 15.98, 18.49, 20.50, 21.00, 22.01, 22.51, 22.89,
        23.14, 23.39, 23.64, 23.77, 24.02, 24.27, 24.40, 24.27, 23.77, 23.27,
        21.51, 20.88, 20.75, 20.63, 18.99, 17.24, 18.99, 21.00, 21.25, 22.26,
        23.52, 23.77, 24.02, 24.27, 24.22, 24.47, 24.52, 24.40, 23.77, 22.26,
        22.76, 22.81, 22.26, 21.25, 19.50, 17.99, 18.99, 21.00, 22.51, 22.89,
        22.51, 22.14, 21.51, 20.00, 17.74, 15.98, 17.24, 19.99, 21.00, 21.25,
        20.25, 21.25, 21.38, 21.25, 21.38, 21.13, 20.75, 20.50, 21.00, 20.63,
        20.50, 20.75, 20.00, 18.99, 18.37, 18.99, 20.00, 20.75, 21.38, 22.01,
        22.76, 23.27, 23.64, 24.14, 24.52, 24.90, 25.40, 25.58, 25.28, 24.52,
        23.27, 21.76, 20.13, 20.75, 22.01, 21.76, 19.50, 19.25, 20.75, 21.76,
        22.31, 22.26, 21.51, 20.63, 20.88, 21.63, 22.26, 22.64, 22.89, 23.14,
        23.01, 22.76, 21.88, 21.63, 21.76, 22.01, 22.01, 21.76, 20.88, 20.88,
        20.63, 20.88, 21.51, 21.51, 21.76, 22.14, 21.51, 21.13, 21.51, 21.96]

names = ['Acid', 'Li', 'Na', 'K', 'Rb', 'Cs']
line_colors = ['#000000', '#C00000', '#0B6B0B', '#0A28F0', '#B800A8', '#FF8A00']
label_colors = ['#000000', '#C00000', '#0B640B', '#0A1FE0', '#990088', '#FF6A10']
label_wn = [3978, 3926, 3911, 3888, 3892, 3900]
label_t = [96.0, 84.2, 75.6, 56.8, 41.5, 29.7]


def plot_spectra():
    fig = plt.figure(figsize=(38.08, 24.88), dpi=100)
    ax = fig.add_axes([0.0079, 0.0816, 0.9811, 0.9184])

    spectra = [(acid_wn, acid_t), (li_wn, li_t), (na_wn, na_t),
               (k_wn, k_t), (rb_wn, rb_t), (cs_wn, cs_t)]
    for (wn, t), c in zip(spectra, line_colors):
        ax.plot(np.array(wn), np.array(t), color=c, lw=4.3,
                solid_joinstyle='round', solid_capstyle='round')

    for name, x, y, c in zip(names, label_wn, label_t, label_colors):
        ax.text(x, y, name, color=c, fontsize=40, fontweight='bold',
                ha='left', va='baseline')

    ax.set_xlim(4088, 315)
    ax.set_ylim(0, 100)

    for s in ['top', 'right', 'left']:
        ax.spines[s].set_visible(False)
    ax.spines['bottom'].set_linewidth(3.0)
    ax.set_yticks([])

    # 200-step labelled ticks, 20-step minor ticks
    ax.xaxis.set_major_locator(MultipleLocator(200))
    ax.xaxis.set_minor_locator(MultipleLocator(20))
    ax.tick_params(axis='x', which='major', direction='out', length=22, width=1.6,
                   labelsize=25, pad=4)
    ax.tick_params(axis='x', which='minor', direction='out', length=12, width=1.4)

    # 100-step medium ticks on a secondary axis
    sec = ax.secondary_xaxis('bottom')
    sec.spines['bottom'].set_visible(False)
    sec.xaxis.set_major_locator(FixedLocator(np.arange(3900, 300, -200)))
    sec.xaxis.set_major_formatter(NullFormatter())
    sec.tick_params(axis='x', which='major', direction='out', length=17, width=1.5)
    sec.xaxis.set_minor_locator(FixedLocator([]))

    ax.set_xlabel('Wawenumber (cm$^{-1}$)', fontsize=44, labelpad=30)

    fig.savefig('out.png', dpi=100)


def main():
    plot_spectra()


if __name__ == '__main__':
    main()
